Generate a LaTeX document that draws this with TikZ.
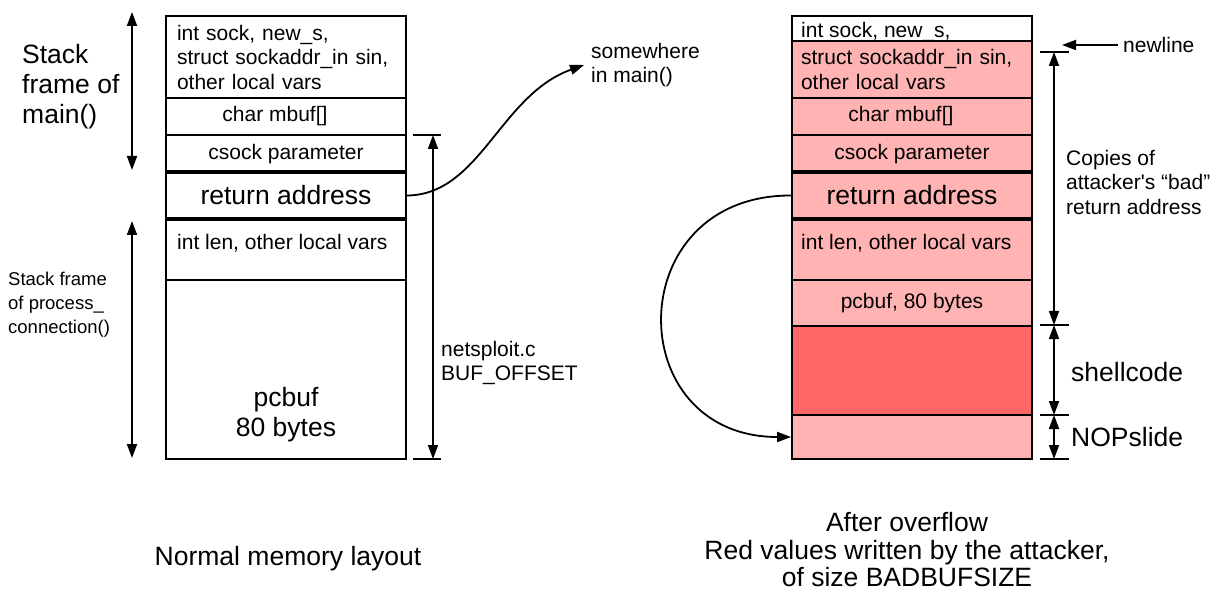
\documentclass[tikz,border=0pt]{standalone}
\usepackage{fontspec}
\setmainfont{Liberation Sans}
\definecolor{stackpink}{RGB}{255, 179, 179}
\definecolor{stackred}{RGB}{255, 102, 102}
\usetikzlibrary{arrows.meta, positioning}
\tikzset{
  % Stack cell (#1 = fill colour).
  cell/.style={
    rectangle, draw=black, line width=1.8pt,
    fill=#1,
    minimum width=240pt, inner xsep=11pt, inner ysep=0pt,
    align=center,
    font=\fontsize{21}{24.5}\selectfont,
  },
  cell-white/.style={cell=white},
  cell-pink/.style ={cell=stackpink},
  cell-red/.style  ={cell=stackred},
  % Heavy rule round the return address.
  divider/.style={line width=4pt},
  % Plain texts.
  label-text/.style ={inner sep=0pt, align=left, font=\fontsize{21}{24.5}\selectfont},
  label-big/.style  ={label-text, font=\fontsize{26.5}{30}\selectfont},
  label-small/.style={label-text, font=\fontsize{18.5}{24}\selectfont},
  % Arrows.
  dim-arrow/.style={
    {Triangle[length=14pt, width=10pt]}-{Triangle[length=14pt, width=10pt]},
    line width=1.8pt,
  },
  flow/.style={-{Triangle[length=14pt, width=10pt]}, line width=1.8pt},
  tick/.style={line width=1.8pt},
}

\begin{document}
\begin{tikzpicture}[x=1pt, y=-1pt]
  \useasboundingbox (0,0) rectangle (1217,593);

  % Normal layout.
  \node[cell-white, text width=218pt, align=left, minimum height=82pt] (lvars) at (286,57)
    {int sock, new\_s,\\struct sockaddr\_in sin,\\other local vars};
  \node[cell-white, minimum height=37pt] (lmbuf) at (286,116.5) {};
  \node[label-text] (lmbuft) at (275,116.5) {char mbuf[]};
  \node[cell-white, minimum height=38pt] (lcsock) at (286,154) {csock parameter};
  \node[cell-white, minimum height=45pt, font=\fontsize{26.5}{30}\selectfont] (lret) at (286,195.5) {return address};
  \node[cell-white, minimum height=62pt] (llen) at (286,249) {};
  \node[label-text, anchor=west] (llent) at (177,243) {int len, other local vars};
  \node[cell-white, minimum height=179pt] (lpcbuf) at (286,369.5) {};
  \node[label-big, align=center] (lpcbuft) at (286,415) {pcbuf\\80 bytes};
  \draw[divider] (lret.north west) -- (lret.north east);
  \draw[divider] (lret.south west) -- (lret.south east);

  % Frames of the normal layout.
  \coordinate (mtop) at (132,12);
  \coordinate (mbot) at (132,170);
  \coordinate (ptop) at (132,221);
  \coordinate (pbot) at (132,458);
  \draw[dim-arrow] (mtop) -- (mbot);
  \draw[dim-arrow] (ptop) -- (pbot);
  \node[label-big, anchor=west] (mainlab) at (22,87) {Stack\\frame of\\main()};
  \node[label-small, anchor=west] (proclab) at (8,305) {Stack frame\\of process\_\\connection()};

  % Offset up to the return address.
  \coordinate (btop) at (433,135);
  \coordinate (bbot) at (433,459);
  \draw[tick] ([xshift=-20pt]btop) -- ([xshift=8pt]btop);
  \draw[tick] ([xshift=-20pt]bbot) -- ([xshift=8pt]bbot);
  \draw[dim-arrow] (btop) -- (bbot);
  \node[label-text, anchor=west] (buflab) at (441,363) {netsploit.c\\BUF\_OFFSET};

  % Normal return.
  \node[label-text, anchor=west] (smain) at (591,65) {somewhere\\in main()};
  \draw[flow] (lret.east) .. controls (480,195) and (500,95) .. ([xshift=-7pt]smain.west);

  % Overflowed layout.
  \node[cell-white, minimum height=25pt] (rsock) at (912,28.5) {};
  \node[label-text, anchor=base west] (rsockt) at (801,38) {int sock, new\_s,};
  \node[cell-pink, text width=222pt, inner xsep=9pt, align=left, minimum height=57pt] (rvars) at (912,69.5)
    {struct sockaddr\_in sin,\\other local vars};
  \node[cell-pink, minimum height=37pt] (rmbuf) at (912,116.5) {};
  \node[label-text] (rmbuft) at (901,116.5) {char mbuf[]};
  \node[cell-pink, minimum height=38pt] (rcsock) at (912,154) {csock parameter};
  \node[cell-pink, minimum height=45pt, font=\fontsize{26.5}{30}\selectfont] (rret) at (912,195.5) {return address};
  \node[cell-pink, minimum height=62pt] (rlen) at (912,249) {};
  \node[label-text, anchor=west] (rlent) at (801,243) {int len, other local vars};
  \node[cell-pink, minimum height=46pt] (rpcbuf) at (912,303) {pcbuf, 80 bytes};
  \node[cell-red, minimum height=89pt] (rshell) at (912,370.5) {};
  \node[cell-pink, minimum height=44pt] (rnop) at (912,437) {};
  \draw[divider] (rret.north west) -- (rret.north east);
  \draw[divider] (rret.south west) -- (rret.south east);

  % Extents of what the attacker wrote.
  \coordinate (ctop) at (1054,52);
  \coordinate (cbot) at (1054,325);
  \coordinate (sbot) at (1054,415);
  \coordinate (nbot) at (1054,459);
  \foreach \c in {ctop, cbot, sbot, nbot}
    \draw[tick] ([xshift=-14pt]\c) -- ([xshift=15pt]\c);
  \draw[dim-arrow] (ctop) -- (cbot);
  \draw[dim-arrow] (cbot) -- (sbot);
  \draw[dim-arrow] (sbot) -- (nbot);
  \node[label-text, anchor=west] (copylab) at (1066,182)
    {Copies of\\attacker\textquotesingle s “bad”\\return address};
  \node[label-big, anchor=west] (shlab) at (1071,372) {shellcode};
  \node[label-big, anchor=west] (noplab) at (1071,437) {NOPslide};

  % Newline marker.
  \node[label-text, anchor=west] (nllab) at (1123,45) {newline};
  \coordinate (nltip) at (1062,45);
  \draw[flow] ([xshift=-5pt]nllab.west) -- (nltip);

  % Bad return into the NOP slide.
  \draw[flow] (rret.west) .. controls (620,195) and (620,437) .. (rnop.west);

  % Captions.
  \node[label-big, align=center] (lcap) at (288,559) {Normal memory layout};
  \node[label-big, align=center, font=\fontsize{26.5}{27.5}\selectfont] (rcap) at (907,550)
    {After overflow\\Red values written by the attacker,\\of size BADBUFSIZE};

\end{tikzpicture}
\end{document}
